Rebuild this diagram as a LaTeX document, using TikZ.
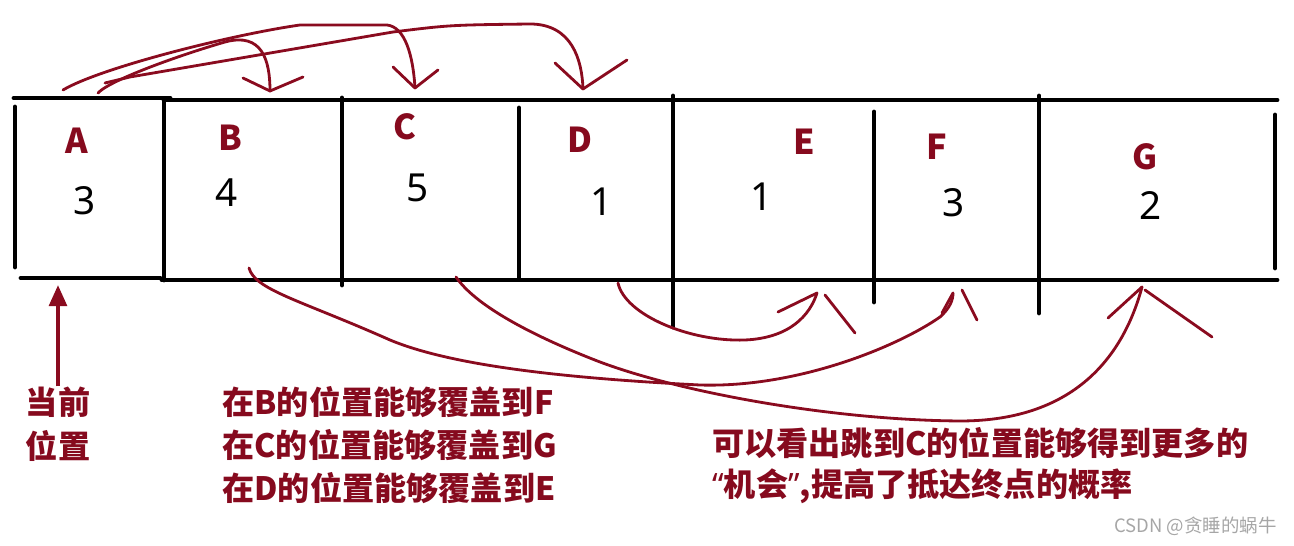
\documentclass[tikz,border=0pt]{standalone}
\usepackage{fontspec}
\setmainfont{Noto Sans}
\newfontfamily\cjkfont{Noto Sans CJK SC}
\newfontfamily\quotefont{Noto Sans}
\usetikzlibrary{arrows.meta}
\definecolor{penred}{HTML}{8A0B1F}
\definecolor{notered}{HTML}{860A1E}
\definecolor{markgray}{HTML}{A6A6A6}

\tikzset{
  cellline/.style={line width=2.8pt, line cap=round},
  pen/.style={draw=penred, line width=1.6pt, line cap=round, line join=round},
  cellname/.style={text=notered, inner sep=0pt, font=\cjkfont\bfseries\fontsize{19.5}{22}\selectfont},
  cellval/.style={inner sep=0pt, font=\fontsize{22}{25}\selectfont},
  note/.style={text=notered, anchor=west, inner sep=0pt, font=\cjkfont\bfseries\fontsize{18.3}{22}\selectfont},
}

\begin{document}
\begin{tikzpicture}[x=0.02cm, y=-0.02cm]
\useasboundingbox (0,0) rectangle (1294,546);

% the row of cells
\draw[cellline] (14,98) -- (170,98);
\draw[cellline] (164,100) -- (1277,100);
\draw[cellline] (21,278) -- (160,278);
\draw[cellline] (162,280) -- (1277,280);
\foreach \x/\ya/\yb in {15/107/267, 164/100/280, 342/98/285, 519/108/277,
                       673/96/327, 874/112/302, 1039/96/313, 1275/115/268}
  \draw[cellline] (\x,\ya) -- (\x,\yb);

% names and values
\foreach \n/\x/\y in {A/77/141, B/230/138, C/405/127, D/580/140, E/804/142, F/937/147, G/1145/157}
  \node[cellname] (name\n) at (\x,\y) {\n};
\foreach \n/\v/\x/\y in {A/3/85/201, B/4/227/193, C/5/418/188, D/1/602/202, E/1/762/197, F/3/954/203, G/2/1151/206}
  \node[cellval] (val\n) at (\x,\y) {\v};

% jumps from A
\coordinate (fromAc) at (63,90);
\coordinate (fromAb) at (98,93);
\coordinate (fromAd) at (105,83);
\coordinate (tipB) at (270,91);
\coordinate (tipC) at (415,88);
\coordinate (tipD) at (583,89);
\draw[pen] (fromAb) .. controls (110,80) and (180,55) .. (225,42)
  .. controls (262,32) and (270,60) .. (tipB);
\draw[pen] (243,78) -- (tipB) -- (303,77);
\draw[pen] (fromAc) .. controls (100,68) and (230,35) .. (300,25) -- (387,25)
  .. controls (405,27) and (413,55) .. (tipC);
\draw[pen] (393,67) -- (tipC) -- (438,70);
\draw[pen] (fromAd) -- (130,77) -- (393,32) .. controls (450,25) .. (530,24)
  .. controls (572,24) and (582,60) .. (tipD);
\draw[pen] (555,63) -- (tipD) -- (627,60);

% reach from B, C, D
\coordinate (fromB) at (249,268);
\coordinate (fromC) at (456,277);
\coordinate (fromD) at (618,283);
\coordinate (tipE) at (817,293);
\coordinate (tipF) at (953,293);
\coordinate (tipG) at (1142,287);
\draw[pen] (fromD) .. controls (625,315) and (690,342) .. (745,340)
  .. controls (790,338) and (810,315) .. (tipE);
\draw[pen] (778,312) -- (tipE);
\draw[pen] (825,295) -- (855,333);
\draw[pen] (fromB) .. controls (255,290) and (300,300) .. (390,340)
  .. controls (450,365) and (560,378) .. (700,385)
  .. controls (800,388) and (900,345) .. (940,317)
  .. controls (950,308) and (953,300) .. (tipF);
\draw[pen] (942,313) -- (tipF);
\draw[pen] (962,290) -- (977,320);
\draw[pen] (fromC) .. controls (475,305) and (530,335) .. (600,362)
  .. controls (680,392) and (830,420) .. (960,421)
  .. controls (1080,421) and (1125,350) .. (tipG);
\draw[pen] (1108,318) -- (tipG);
\draw[pen] (1145,290) -- (1212,337);

% current position
\node[note, anchor=center] (curA) at (58,402) {当前};
\node[note, anchor=center] (curB) at (58,446) {位置};
\coordinate (curtip) at (58,285);
\draw[draw=penred, line width=2.3pt, -{Triangle[length=12pt,width=10pt]}] (curA.north) -- (curtip);

% notes
\node[note] (lineB) at (222,402) {在B的位置能够覆盖到F};
\node[note] (lineC) at (222,445) {在C的位置能够覆盖到G};
\node[note] (lineD) at (222,488) {在D的位置能够覆盖到E};
\node[note] (chance1) at (712,443) {可以看出跳到C的位置能够得到更多的};
\node[note] (chance2) at (712,486) {{\quotefont“}机会{\quotefont”},提高了抵达终点的概率};

\node[anchor=east, text=markgray, inner sep=0pt, font=\cjkfont\fontsize{10.5}{12}\selectfont] (mark) at (1277,526) {CSDN @贪睡的蜗牛};
\end{tikzpicture}
\end{document}
